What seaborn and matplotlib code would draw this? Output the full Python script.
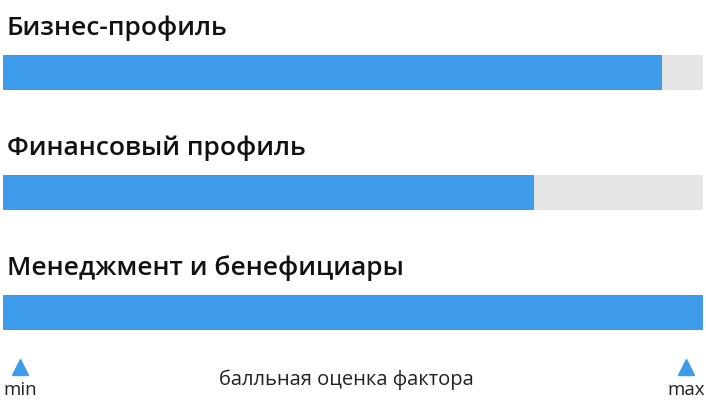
import matplotlib
matplotlib.use("Agg")
import matplotlib.pyplot as plt
import seaborn as sns
import pandas as pd

# factor scores, 0..100 scale
factors = ["Бизнес-профиль", "Финансовый профиль", "Менеджмент и бенефициары"]
scores = [94.1, 75.9, 100.0]
max_score = [100, 100, 100]
axis_label = "балльная оценка фактора"
min_label = "min"
max_label = "max"

BLUE = "#3d9be9"
GREY = "#e5e5e5"

sns.set_theme(style="white")
plt.rcParams["font.family"] = ["Open Sans", "DejaVu Sans"]

df = pd.DataFrame({"factor": factors, "score": scores, "max": max_score})

fig = plt.figure(figsize=(7.06, 4.07), dpi=100)
ax = fig.add_axes([3 / 706, 34.5 / 407, 700 / 706, 360 / 407])

bar_w = 35 / 120
sns.barplot(data=df, x="max", y="factor", orient="h", color=GREY,
            width=bar_w, ax=ax, saturation=1, linewidth=0)
sns.barplot(data=df, x="score", y="factor", orient="h", color=BLUE,
            width=bar_w, ax=ax, saturation=1, linewidth=0)

ax.set_xlim(0, 100)
ax.set_ylim(2.5, -0.5)
ax.axis("off")

for i, name in enumerate(factors):
    ax.text(0.57, i - bar_w / 2 - 20 / 120, name, fontsize=19,
            fontweight="semibold", color="#111111", va="baseline", ha="left")

# scale markers below the bars
ax.plot([2.4, 97.6], [2.454, 2.454], linestyle="none", marker="^",
        markersize=12, color=BLUE, clip_on=False)
ax.text(2.4, 2.69, min_label, fontsize=13.5, ha="center", va="baseline",
        color="#222222", clip_on=False)
ax.text(97.6, 2.69, max_label, fontsize=13.5, ha="center", va="baseline",
        color="#222222", clip_on=False)
ax.text(49, 2.6, axis_label, fontsize=14.5, ha="center", va="baseline",
        color="#222222", clip_on=False)

fig.savefig("out.png", dpi=100)
